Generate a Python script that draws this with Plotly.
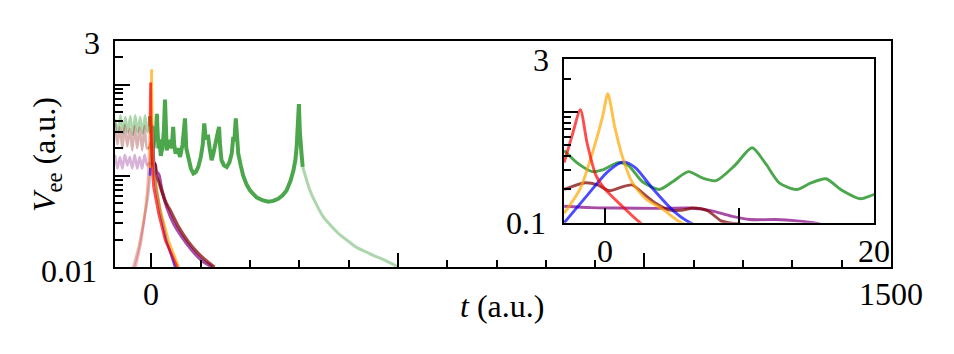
import plotly.graph_objects as go

# ---------------- data ----------------
# faded parts before the pulse (main panel)
green_pre_t = [-74, -68, -63, -58, -53, -48, -43, -38, -33, -28, -23, -18, -13, -8, -3]
green_pre_v = [0.42, 0.30, 0.46, 0.29, 0.44, 0.30, 0.45, 0.28, 0.46, 0.30, 0.44, 0.29, 0.46, 0.30, 0.45]
brown_pre_t = [-74, -69, -64, -59, -54, -49, -44, -39, -34, -29, -24, -19, -14, -9, -3]
brown_pre_v = [0.38, 0.22, 0.34, 0.20, 0.36, 0.21, 0.33, 0.19, 0.35, 0.20, 0.34, 0.19, 0.35, 0.20, 0.20]
purple_pre_t = [-74, -69, -64, -59, -54, -49, -44, -39, -34, -29, -24, -19, -14, -9, -3]
purple_pre_v = [0.17, 0.12, 0.16, 0.12, 0.17, 0.13, 0.16, 0.12, 0.17, 0.12, 0.16, 0.12, 0.17, 0.13, 0.141]
red_pre_t = [-32, -22, -14, -8, -5, -3]
red_pre_v = [0.01, 0.018, 0.036, 0.075, 0.16, 0.35]
orange_pre_t = [-38, -26, -16, -9, -5, -3]
orange_pre_v = [0.01, 0.017, 0.033, 0.055, 0.085, 0.122]
blue_pre_t = [-36, -25, -15, -8, -3]
blue_pre_v = [0.01, 0.017, 0.033, 0.055, 0.10]

# main (dark) parts, t >= -3
red_t = [-3, -2.4, -1.8, -1.29, -0.65, -0.02, 1.26, 2.66, 4.4, 8, 14.6, 28, 45, 52]
red_v = [0.35, 0.62, 1.05, 0.52, 0.27, 0.205, 0.143, 0.10, 0.075, 0.058, 0.0385, 0.0196, 0.0118, 0.01]
orange_t = [-3, -1.8, -0.78, -0.14, 0.24, 0.75, 1.26, 2.02, 3.04, 4.3, 5.7, 8, 18, 35, 55]
orange_v = [0.122, 0.205, 0.48, 0.92, 1.47, 0.74, 0.42, 0.236, 0.165, 0.133, 0.10, 0.085, 0.042, 0.019, 0.01]
blue_t = [-3, -1.29, 0.24, 1.39, 2.28, 3.55, 5.08, 6.36, 10, 18, 30, 48]
blue_v = [0.10, 0.177, 0.29, 0.355, 0.315, 0.205, 0.129, 0.10, 0.07, 0.04, 0.02, 0.01]
green_t = [-3, -2.06, -0.9, -0.14, 1.0, 1.77, 2.79, 4.06, 5.08, 6.23, 7.25, 8.27, 9.67, 10.95,
           11.97, 12.99, 14.26, 15.28, 16.43, 17.58, 18.98, 20, 22, 25, 27.4, 29, 31, 34, 37.5,
           41, 44, 46, 49, 53, 58, 63, 68, 70.6, 74, 80, 85, 90, 95, 100, 104, 107, 110, 115,
           118, 122, 125, 128, 132, 137, 139, 142, 147, 152.5, 158, 162.7, 166, 168, 171, 173,
           176, 181, 186, 193, 200, 213, 225, 237, 247, 257, 266, 274, 282, 288, 292, 294.5,
           296.5, 299, 301, 302.6, 304.5, 306.7]
green_v = [0.45, 0.35, 0.29, 0.30, 0.35, 0.33, 0.236, 0.20, 0.236, 0.29, 0.254, 0.24, 0.33, 0.476,
           0.34, 0.228, 0.20, 0.228, 0.25, 0.198, 0.165, 0.18, 0.20, 0.30, 0.685, 0.30, 0.19, 0.22,
           0.246, 0.20, 0.343, 0.22, 0.175, 0.20, 0.161, 0.22, 0.425, 0.20, 0.16, 0.12, 0.106, 0.11,
           0.125, 0.16, 0.22, 0.375, 0.26, 0.267, 0.20, 0.148, 0.17, 0.20, 0.25, 0.343, 0.22, 0.148,
           0.13, 0.125, 0.14, 0.175, 0.267, 0.24, 0.425, 0.25, 0.175, 0.13, 0.10, 0.08, 0.069,
           0.058, 0.054, 0.052, 0.053, 0.056, 0.061, 0.069, 0.088, 0.115, 0.15, 0.208, 0.30, 0.61,
           0.30, 0.19, 0.17, 0.125]
green_post_t = [306.7, 321.5, 335, 348.5, 365, 382, 400, 416, 433, 450, 465, 477, 490, 500.6]
green_post_v = [0.125, 0.069, 0.048, 0.0354, 0.028, 0.0226, 0.019, 0.0164, 0.0148, 0.0134,
                0.0124, 0.0116, 0.0107, 0.01]
brown_t = [-3, -1.42, -0.53, 0.37, 1.26, 2.02, 3.04, 3.8, 4.83, 5.7, 6.61, 7.63, 8.65, 9.2,
           15, 20, 30, 38, 55, 75, 96, 115, 128]
brown_v = [0.20, 0.23, 0.22, 0.195, 0.21, 0.22, 0.177, 0.15, 0.13, 0.13, 0.136, 0.129, 0.104,
           0.10, 0.085, 0.07, 0.05, 0.042, 0.0275, 0.0188, 0.0139, 0.0113, 0.01]
purple_t = [-3, -1, 1, 3.8, 6.36, 7.9, 9.4, 10.8, 12.7, 14.3, 15.5, 18, 21, 31, 45, 62, 82, 102, 123]
purple_v = [0.141, 0.137, 0.136, 0.135, 0.136, 0.129, 0.115, 0.107, 0.107, 0.104, 0.10, 0.085,
            0.07, 0.0455, 0.030, 0.0213, 0.0153, 0.0118, 0.01]

# tick positions / labels
main_x_major = [0, 500, 1000]
main_x_minor = [100, 200, 300, 400, 600, 700, 800, 900, 1100, 1200, 1300, 1400]
main_y_major = [0.1, 1]
main_y_minor = [0.02, 0.03, 0.04, 0.05, 0.06, 0.07, 0.08, 0.09,
                0.2, 0.3, 0.4, 0.5, 0.6, 0.7, 0.8, 0.9, 2]
inset_x_major = [0, 10]
inset_y_major = [1]
inset_y_minor = [0.2, 0.3, 0.4, 0.5, 0.6, 0.7, 0.8, 0.9, 2]

# ---------------- styling ----------------
C = {
    "green": "rgba(0,128,0,0.70)", "green_f": "rgba(0,128,0,0.32)",
    "red": "rgba(255,0,0,0.70)", "red_f": "rgba(255,0,0,0.30)",
    "orange": "rgba(255,165,0,0.70)", "orange_f": "rgba(255,165,0,0.30)",
    "blue": "rgba(0,0,255,0.70)", "blue_f": "rgba(0,0,255,0.25)",
    "purple": "rgba(128,0,128,0.70)", "purple_f": "rgba(128,0,128,0.30)",
    "brown": "rgba(128,0,0,0.72)", "brown_f": "rgba(128,0,0,0.30)",
}

fig = go.Figure()


def add(t, v, color, width, xa="x", ya="y", shape="spline"):
    fig.add_trace(go.Scatter(x=t, y=v, mode="lines", xaxis=xa, yaxis=ya,
                             line=dict(color=color, width=width, shape=shape, smoothing=0.7),
                             hoverinfo="skip", showlegend=False))


# main panel: faded
add(green_pre_t, green_pre_v, C["green_f"], 2.6)
add(brown_pre_t, brown_pre_v, C["brown_f"], 2.6)
add(purple_pre_t, purple_pre_v, C["purple_f"], 2.6)
add(blue_pre_t, blue_pre_v, C["blue_f"], 2.6)
add(red_pre_t, red_pre_v, C["red_f"], 2.6)
add(orange_pre_t, orange_pre_v, C["orange_f"], 2.6)
add(green_post_t, green_post_v, C["green_f"], 3)
# main panel: dark
add(green_t, green_v, C["green"], 4, shape="linear")
add(purple_t, purple_v, C["purple"], 3.4)
add(brown_t, brown_v, C["brown"], 3.2)
add(blue_t, blue_v, C["blue"], 2.6, shape="linear")
add(orange_t, orange_v, C["orange"], 2.8, shape="linear")
add(red_t, red_v, C["red"], 2.8, shape="linear")

# inset
for t, v, c in [(purple_t, purple_v, "purple"), (brown_t, brown_v, "brown"),
                (green_t, green_v, "green"), (blue_t, blue_v, "blue"),
                (orange_t, orange_v, "orange"), (red_t, red_v, "red")]:
    add(t, v, C[c], 2.9, "x2", "y2")

# the page body has an 8px margin: draw the figure 8px smaller so the
# reference pixel coordinates below line up with the photographed page
OFF = 8
W, H = 954, 354
L, R, T, B = 115, 63, 41, 87
PW, PH = W - L - R, H - T - B


def px(x):
    return (x - L) / PW


def py(y):
    return (H - B - y) / PH


FONT = "Liberation Serif"
FS = 32

axis_common = dict(showgrid=False, zeroline=False, showline=True, linecolor="black",
                   linewidth=2, mirror=True, ticks="inside", tickcolor="black",
                   tickwidth=2, showticklabels=False)

fig.update_layout(
    width=W - OFF, height=H - OFF, margin=dict(l=L - OFF, r=R, t=T - OFF, b=B),
    paper_bgcolor="white", plot_bgcolor="white", showlegend=False,
    font=dict(family=FONT, size=FS, color="black"),
    xaxis=dict(range=[-74, 1500], domain=[0, 1], tickmode="array", tickvals=main_x_major,
               ticklen=14, minor=dict(tickmode="array", tickvals=main_x_minor, ticks="inside",
                                      ticklen=7, tickwidth=2, tickcolor="black"),
               **axis_common),
    yaxis=dict(type="log", range=[-2, 0.4771], domain=[0, 1], tickmode="array",
               tickvals=main_y_major, ticklen=15,
               minor=dict(tickmode="array", tickvals=main_y_minor, ticks="inside",
                          ticklen=8, tickwidth=2, tickcolor="black"),
               **axis_common),
    xaxis2=dict(range=[-3.05, 20], domain=[px(563.5), px(874)], anchor="y2",
                tickmode="array", tickvals=inset_x_major, ticklen=15, **axis_common),
    yaxis2=dict(type="log", range=[-1, 0.4771], domain=[py(222.8), py(59.3)], anchor="x2",
                tickmode="array", tickvals=inset_y_major, ticklen=14,
                minor=dict(tickmode="array", tickvals=inset_y_minor, ticks="inside",
                           ticklen=7.5, tickwidth=2, tickcolor="black"),
                **axis_common),
)


def label(text, x, y, angle=0):
    fig.add_annotation(text=text, xref="paper", yref="paper", x=px(x), y=py(y),
                       xanchor="center", yanchor="middle", showarrow=False,
                       textangle=angle, font=dict(family=FONT, size=FS, color="black"))


label("3", 92, 43)
label("0.01", 69, 271)
label("0", 151, 294)
label("1500", 891, 294)
label("3", 541, 60)
label("0.1", 526, 223)
label("0", 604.5, 251)
label("20", 874, 251)
label("<i>t</i> (a.u.)", 502, 306)
label("<i>V</i><sub>ee</sub> (a.u.)", 46, 155, -90)

fig.write_html("out.html")
